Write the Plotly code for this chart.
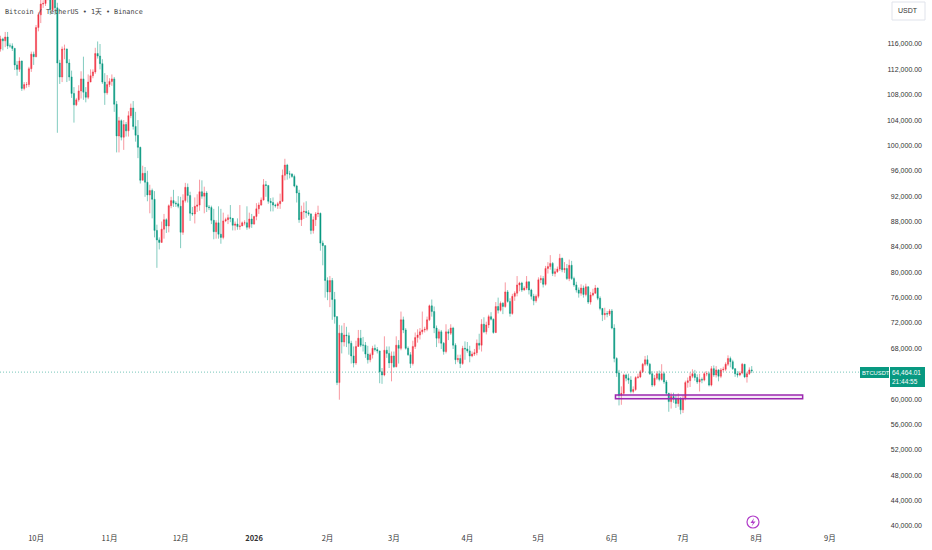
import pandas as pd
import plotly.graph_objects as go

# prices, in thousands of USDT, one row per month (sep 16 2025 - jul 30 2026)
dates = pd.date_range("2025-09-16", "2026-07-30", freq="D")

opens = [
    115.2,116.8,116.5,117.1,115.7,115.7,115.3,112.7,112.0,113.3,109.0,109.6,109.6,112.1,114.4,
    114.0,118.6,120.6,122.3,122.4,123.5,124.7,121.4,123.3,121.7,113.0,110.8,115.2,115.2,113.0,110.8,108.2,106.4,107.2,108.6,110.5,108.4,107.6,110.0,111.0,111.6,114.5,114.1,112.9,110.0,108.3,
    109.6,110.1,110.5,106.5,101.5,103.9,101.3,103.3,102.3,104.7,105.9,103.0,101.6,99.7,94.5,95.6,94.2,92.2,92.9,91.5,86.6,85.1,84.7,86.8,88.3,87.3,90.5,91.3,90.9,90.8,
    90.4,86.3,91.3,93.4,92.1,89.3,89.2,90.4,90.6,92.7,92.0,92.5,90.3,90.2,88.2,86.4,87.8,86.0,85.5,88.1,88.3,88.6,88.5,87.4,87.6,87.2,87.3,87.8,87.8,87.1,88.4,
    87.6,88.8,90.0,90.6,91.4,93.8,93.7,91.2,91.0,90.6,90.5,90.8,91.2,95.3,96.9,95.5,95.5,95.1,93.6,92.5,88.3,89.5,89.6,89.4,89.2,86.6,88.3,89.2,89.3,84.6,84.2,
    78.7,76.9,78.7,75.7,73.0,62.6,70.4,69.0,70.1,70.0,68.8,66.8,65.7,68.3,69.6,68.5,68.5,67.1,66.2,67.0,68.0,67.8,67.6,64.3,63.8,67.7,67.2,65.7,
    66.8,65.1,68.5,68.0,72.5,70.9,68.0,67.0,65.6,68.3,69.7,70.1,70.6,70.9,71.0,72.5,74.7,73.8,71.2,69.6,70.6,68.8,67.5,70.6,70.4,71.2,68.5,66.2,66.4,65.6,68.0,
    67.9,67.6,66.8,67.1,67.3,68.8,68.5,71.8,70.6,71.7,73.0,72.6,70.5,74.6,74.0,75.1,74.6,76.9,75.4,73.5,76.2,76.7,78.0,78.3,77.2,77.5,78.5,77.2,76.2,75.5,
    76.2,78.8,79.0,78.1,80.6,80.9,81.4,79.8,80.1,80.5,82.2,80.4,80.6,79.0,81.1,79.0,78.0,77.2,76.7,77.5,76.5,77.7,75.3,76.4,76.7,77.5,75.9,74.3,73.3,73.5,73.4,
    73.9,71.2,66.4,64.1,60.6,60.9,63.8,63.3,63.0,61.2,61.5,63.4,63.5,64.3,65.5,66.2,65.5,64.0,62.2,63.3,64.0,63.1,64.0,62.7,60.9,59.6,60.4,60.0,59.3,60.0,
    58.3,60.1,62.6,62.9,63.6,64.0,63.4,62.7,63.1,63.0,64.0,64.0,62.2,64.8,63.8,64.6,63.6,64.6,64.7,65.5,66.4,65.9,64.8,64.0,63.8,64.1,65.5,63.5,64.0,64.6,
]
highs = [
    117.3,117.0,117.9,117.9,116.1,116.1,115.4,113.3,113.9,113.4,110.0,110.0,112.4,114.8,114.8,
    119.0,121.0,123.9,122.9,125.7,126.1,125.0,124.1,123.7,122.5,113.5,115.6,115.9,115.3,113.6,111.8,109.2,107.5,109.5,111.7,114.0,109.2,111.2,112.0,112.0,115.4,116.4,116.0,113.6,111.4,111.1,
    110.6,111.2,110.8,107.0,104.5,104.1,104.0,103.7,105.4,106.6,107.0,105.3,104.0,99.8,96.8,96.6,96.0,93.8,93.2,92.8,87.5,85.5,88.0,89.2,88.5,90.7,91.9,93.0,91.2,92.0,
    91.9,92.3,94.1,94.0,92.7,90.3,91.8,92.3,94.6,94.5,93.5,92.8,90.6,90.5,90.0,88.2,90.4,90.0,89.4,88.6,89.1,90.6,88.0,88.0,88.5,90.6,88.0,88.2,90.4,89.4,89.2,
    88.9,90.9,91.0,91.8,94.7,94.4,93.7,91.7,91.8,90.8,91.1,92.4,96.2,97.9,97.1,96.0,95.6,95.4,93.8,93.0,90.5,91.0,91.2,89.8,89.3,88.8,89.5,90.5,89.4,85.0,84.3,
    79.2,79.4,79.1,76.9,73.1,71.7,71.6,72.0,71.4,70.5,69.2,68.3,69.2,70.9,70.9,69.8,69.0,68.4,67.3,68.4,68.6,68.2,67.6,64.9,69.9,68.3,68.3,67.5,
    67.5,69.9,69.3,73.8,73.0,71.2,68.3,67.4,69.2,70.5,71.0,71.2,73.8,71.4,73.0,74.9,75.7,74.6,71.6,71.0,70.9,69.0,71.8,71.0,71.8,71.4,68.8,67.0,67.0,68.4,69.1,
    69.0,68.4,67.5,67.9,69.4,70.3,72.6,72.9,72.2,73.3,73.7,72.7,75.3,76.0,75.4,75.3,78.4,77.2,75.9,76.6,77.0,79.4,78.5,78.5,77.8,79.4,77.9,77.4,76.6,76.5,
    79.2,79.5,79.4,81.0,81.6,82.7,81.6,80.6,80.9,82.9,82.3,81.6,81.3,82.0,81.8,79.3,78.5,77.6,78.1,77.9,78.2,77.8,76.9,77.4,78.0,77.6,76.2,74.0,74.4,73.9,74.2,
    74.2,71.8,66.6,64.6,62.0,64.0,64.0,64.0,63.6,62.0,63.6,64.0,64.6,65.7,66.8,66.9,65.7,64.4,63.8,64.4,64.5,65.5,64.3,63.0,61.0,61.0,61.0,60.6,60.9,60.3,
    60.6,62.9,63.4,64.2,64.7,64.6,63.9,64.0,63.4,64.3,64.4,64.3,65.2,65.3,65.2,64.7,64.9,65.1,65.8,66.9,66.7,66.2,64.7,64.4,64.4,65.7,65.5,64.3,65.0,65.2,
]
lows = [
    114.8,115.0,115.5,115.2,115.4,114.9,111.9,111.0,111.6,108.6,108.7,109.1,109.2,111.6,112.7,
    113.9,118.0,119.3,121.7,122.0,122.9,120.6,121.0,120.6,102.0,109.7,110.0,113.6,110.0,110.2,107.5,103.6,106.2,106.9,107.4,107.2,106.8,107.3,110.0,110.6,111.3,113.7,112.0,109.7,106.4,108.0,
    109.2,109.4,105.3,98.9,98.9,100.8,99.3,101.4,101.4,104.3,102.5,100.6,98.0,94.0,94.5,91.9,91.2,89.3,88.5,85.5,80.7,83.6,84.7,85.3,86.2,86.3,90.1,90.3,90.3,90.1,
    83.8,85.9,91.0,91.0,88.1,88.9,87.7,89.5,89.7,91.6,89.3,89.5,89.8,87.6,85.2,85.3,85.3,84.5,85.2,87.9,87.6,87.9,86.6,86.6,86.7,86.7,87.3,87.4,86.7,86.8,87.0,
    87.5,88.2,89.2,90.5,91.3,91.9,90.8,89.6,89.6,90.2,90.0,90.0,91.1,94.5,94.6,94.8,94.9,93.4,91.0,87.8,87.3,88.4,88.6,88.9,86.0,86.1,87.3,88.7,83.4,81.1,76.0,
    75.6,74.5,72.5,71.9,62.2,59.9,67.2,68.3,68.2,67.0,65.6,65.0,65.4,68.5,68.2,67.5,66.5,65.6,65.8,66.4,67.5,67.2,62.5,62.4,63.6,66.5,64.9,62.8,
    64.9,65.0,65.6,67.7,70.4,67.8,66.8,64.9,65.3,67.9,68.9,69.4,70.2,70.5,70.7,72.3,73.0,70.4,68.2,68.8,67.9,67.0,67.2,69.3,70.1,67.9,65.5,65.8,64.9,65.4,66.2,
    67.3,65.8,66.6,66.8,66.9,67.8,67.5,70.4,70.2,71.2,72.4,70.3,70.4,73.5,73.8,73.4,74.4,75.2,73.0,73.3,75.5,76.2,77.0,76.9,77.1,77.2,76.5,75.7,74.8,75.2,
    75.9,78.3,77.6,77.9,79.8,80.4,79.4,79.3,79.9,80.2,80.0,79.9,78.8,78.6,78.8,77.7,76.8,76.0,76.3,76.0,76.2,75.0,74.9,76.2,76.6,75.6,74.0,72.3,72.5,72.9,73.1,
    71.0,65.8,63.5,59.0,59.1,60.6,62.8,62.4,60.9,60.9,61.3,63.2,63.3,64.1,65.2,65.2,63.8,61.9,62.0,63.0,62.8,62.9,62.4,60.7,58.0,58.5,59.4,58.6,58.8,57.6,
    57.8,59.8,61.8,61.9,63.3,62.9,62.4,61.2,62.5,62.8,63.6,62.0,62.0,63.5,63.4,62.8,63.3,64.3,64.4,65.2,65.0,64.6,63.5,63.4,63.6,63.9,63.3,62.6,63.8,64.1,
]
closes = [
    116.8,116.5,117.1,115.7,115.7,115.3,112.7,112.0,113.3,109.0,109.6,109.6,112.1,114.4,114.0,
    118.6,120.6,122.3,122.4,123.5,124.7,121.4,123.3,121.7,113.0,110.8,115.2,115.2,113.0,110.8,108.2,106.4,107.2,108.6,110.5,108.4,107.6,110.0,111.0,111.6,114.5,114.1,112.9,110.0,108.3,109.6,
    110.1,110.5,106.5,101.5,103.9,101.3,103.3,102.3,104.7,105.9,103.0,101.6,99.7,94.5,95.6,94.2,92.2,92.9,91.5,86.6,85.1,84.7,86.8,88.3,87.3,90.5,91.3,90.9,90.8,90.4,
    86.3,91.3,93.4,92.1,89.3,89.2,90.4,90.6,92.7,92.0,92.5,90.3,90.2,88.2,86.4,87.8,86.0,85.5,88.1,88.3,88.6,88.5,87.4,87.6,87.2,87.3,87.8,87.8,87.1,88.4,87.6,
    88.8,90.0,90.6,91.4,93.8,93.7,91.2,91.0,90.6,90.5,90.8,91.2,95.3,96.9,95.5,95.5,95.1,93.6,92.5,88.3,89.5,89.6,89.4,89.2,86.6,88.3,89.2,89.3,84.6,84.2,78.7,
    76.9,78.7,75.7,73.0,62.6,70.4,69.0,70.1,70.0,68.8,66.8,65.7,68.3,69.6,68.5,68.5,67.1,66.2,67.0,68.0,67.8,67.6,64.3,63.8,67.7,67.2,65.7,66.8,
    65.1,68.5,68.0,72.5,70.9,68.0,67.0,65.6,68.3,69.7,70.1,70.6,70.9,71.0,72.5,74.7,73.8,71.2,69.6,70.6,68.8,67.5,70.6,70.4,71.2,68.5,66.2,66.4,65.6,68.0,67.9,
    67.6,66.8,67.1,67.3,68.8,68.5,71.8,70.6,71.7,73.0,72.6,70.5,74.6,74.0,75.1,74.6,76.9,75.4,73.5,76.2,76.7,78.0,78.3,77.2,77.5,78.5,77.2,76.2,75.5,76.2,
    78.8,79.0,78.1,80.6,80.9,81.4,79.8,80.1,80.5,82.2,80.4,80.6,79.0,81.1,79.0,78.0,77.2,76.7,77.5,76.5,77.7,75.3,76.4,76.7,77.5,75.9,74.3,73.3,73.5,73.4,73.9,
    71.2,66.4,64.1,60.6,60.9,63.8,63.3,63.0,61.2,61.5,63.4,63.5,64.3,65.5,66.2,65.5,64.0,62.2,63.3,64.0,63.1,64.0,62.7,60.9,59.6,60.4,60.0,59.3,60.0,58.3,
    60.1,62.6,62.9,63.6,64.0,63.4,62.7,63.1,63.0,64.0,64.0,62.2,64.8,63.8,64.6,63.6,64.6,64.7,65.5,66.4,65.9,64.8,64.0,63.8,64.1,65.5,63.5,64.0,64.6,64.46,
]

price_ticks = [116, 112, 108, 104, 100, 96, 92, 88, 84, 80, 76, 72, 68, 60, 56, 52, 48, 44, 40]
price_labels = ["116,000.00", "112,000.00", "108,000.00", "104,000.00", "100,000.00", "96,000.00", "92,000.00",
                "88,000.00", "84,000.00", "80,000.00", "76,000.00", "72,000.00", "68,000.00", "60,000.00",
                "56,000.00", "52,000.00", "48,000.00", "44,000.00", "40,000.00"]
month_ticks = ["2025-10-01", "2025-11-01", "2025-12-01", "2026-01-01", "2026-02-01", "2026-03-01",
               "2026-04-01", "2026-05-01", "2026-06-01", "2026-07-01", "2026-08-01", "2026-09-01"]
month_labels = ["10月", "11月", "12月", "<b>2026</b>", "2月", "3月", "4月", "5月", "6月", "7月", "8月", "9月"]
last_price_line = 64.25

GREEN = "#089981"
RED = "#F23645"
PURPLE = "#9C27B0"
W, H = 932, 550
RIGHT, BOTTOM = 7, 20
CJK = "Noto Sans CJK SC"
LABEL = "Liberation Sans"


# pixel position in the window -> paper fraction, for the overlay bits
def px(x):
    return x / (W - RIGHT)


def py(y):
    return 1 - y / (H - BOTTOM)


fig = go.Figure()
fig.add_trace(go.Candlestick(
    x=dates, open=opens, high=highs, low=lows, close=closes,
    increasing=dict(line=dict(color="rgba(242,54,69,0.5)", width=1), fillcolor=RED),
    decreasing=dict(line=dict(color="rgba(8,153,129,0.5)", width=1), fillcolor=GREEN),
    whiskerwidth=0, showlegend=False, hoverinfo="skip",
))

# dotted last price line
fig.add_shape(type="line", xref="paper", yref="y", x0=0, x1=px(859), y0=last_price_line, y1=last_price_line,
              line=dict(color=GREEN, width=1, dash="1px,2px"), opacity=0.55)
# purple zone
fig.add_shape(type="rect", xref="x", yref="y", x0="2026-06-02 12:00", x1="2026-08-20 12:00", y0=60.05, y1=60.64,
              line=dict(color=PURPLE, width=1.5), fillcolor="rgba(156,39,176,0.1)", layer="above")
# price badges
fig.add_shape(type="rect", xref="paper", yref="paper", x0=px(860), x1=px(889), y0=py(378), y1=py(367),
              fillcolor=GREEN, line_width=0, layer="above")
fig.add_shape(type="rect", xref="paper", yref="paper", x0=px(890), x1=px(925), y0=py(387), y1=py(367),
              fillcolor=GREEN, line_width=0, layer="above")
# USDT button
fig.add_shape(type="rect", xref="paper", yref="paper", x0=px(892), x1=px(925), y0=py(20), y1=py(2),
              fillcolor="white", line=dict(color="#E0E3EB", width=1), layer="above")
# lightning icon
fig.add_shape(type="circle", xref="paper", yref="paper", x0=px(747), x1=px(759), y0=py(528), y1=py(516),
              line=dict(color="#B03CC8", width=1.2), fillcolor="white", layer="above")
bolt = [(754, 518), (750.5, 523), (753, 523), (751.5, 526.5), (755.5, 521.5), (753, 521.5)]
fig.add_shape(type="path", xref="paper", yref="paper", layer="above", line_width=0, fillcolor="#B03CC8",
              path="M " + " L ".join(f"{px(a):.5f} {py(b):.5f}" for a, b in bolt) + " Z")


def note(x, y, text, size=7, color="#131722", family=LABEL):
    fig.add_annotation(xref="paper", yref="paper", x=px(x), y=py(y), text=text, showarrow=False,
                       xanchor="left", yanchor="middle", font=dict(family=family, size=size, color=color))


note(3, 12, "Bitcoin / TetherUS • 1天 • Binance", size=6.8, color="#444444", family="DejaVu Sans Mono, " + CJK)
note(896, 11, "USDT", size=7, color="#333333")
note(860, 372.5, "BTCUSDT", size=5.8, color="white")
note(890, 372.5, "64,464.01", size=6.5, color="white")
note(890, 381.5, "21:44:55", size=6.5, color="white")

fig.update_layout(
    width=W, height=H, margin=dict(l=0, r=RIGHT, t=0, b=BOTTOM),
    paper_bgcolor="white", plot_bgcolor="white", showlegend=False, boxgap=0.3,
    xaxis=dict(range=["2025-09-15 19:00", "2026-10-11 03:00"], rangeslider=dict(visible=False),
               showgrid=False, zeroline=False, showline=False, ticks="", ticklabelstandoff=2,
               tickmode="array", tickvals=month_ticks, ticktext=month_labels,
               tickfont=dict(family=CJK, size=7.5, color="#333333")),
    yaxis=dict(range=[39.35, 122.94], side="right", ticklabelposition="inside",
               showgrid=False, zeroline=False, showline=False, ticks="",
               tickmode="array", tickvals=price_ticks, ticktext=price_labels,
               tickfont=dict(family=LABEL, size=7, color="#333333")),
)

# the page's default body margin would push the chart 8px down and right
fig.write_html("out.html", config=dict(displayModeBar=False), post_script="document.body.style.margin='0';")
